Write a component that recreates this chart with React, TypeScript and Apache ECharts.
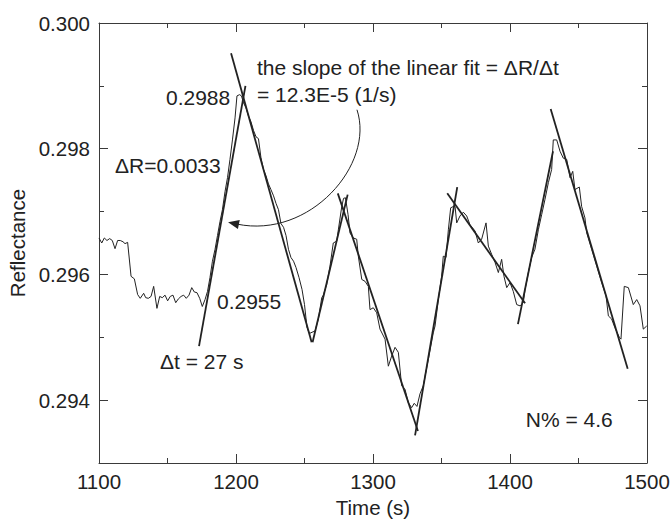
import React, { useEffect, useRef } from "react";
import * as echarts from "echarts";

const FONT = "Liberation Sans";
const INK = "#222222";
const FRAME = "#3a3a3a";

// Measured reflectance trace, [time (s), reflectance]
const baselineSeg: [number, number][] = [
  [1100, 0.29658], [1102, 0.2965], [1103.9, 0.29658], [1105.8, 0.29654], [1107.8, 0.29657],
  [1109.7, 0.29654], [1111.7, 0.29641], [1113.6, 0.29654], [1115.5, 0.29654], [1117.5, 0.29652],
  [1119, 0.29649], [1120.9, 0.29651], [1123.4, 0.29597], [1125.8, 0.29593], [1128.2, 0.29568],
  [1130.1, 0.29562], [1132.6, 0.2957], [1134.1, 0.29563], [1136, 0.29562], [1138, 0.29565],
  [1139.9, 0.29581], [1142.3, 0.29546], [1144.3, 0.29565], [1146.2, 0.29563], [1148.2, 0.29567],
  [1150.1, 0.29558], [1152, 0.29565], [1154, 0.29567], [1156, 0.29555], [1157.9, 0.29561],
  [1159.9, 0.29565], [1161.8, 0.29567], [1163.7, 0.29562], [1165.7, 0.29567], [1167.7, 0.29579],
  [1169.6, 0.29572], [1171.5, 0.29571], [1173.5, 0.29562], [1175.4, 0.29549], [1177.4, 0.2956],
  [1179.2, 0.29573],
];
const riseSeg1: [number, number][] = [
  [1181, 0.29595], [1182.8, 0.29621], [1184.7, 0.2964], [1186.5, 0.29662], [1188.3, 0.29684],
  [1190.1, 0.29703], [1192, 0.29732], [1193.8, 0.29754], [1195.6, 0.29783], [1197.4, 0.29814],
  [1199.3, 0.29849], [1200.7, 0.29884], [1202.6, 0.29886], [1204, 0.29884], [1205.5, 0.29873],
  [1207.3, 0.29865],
];
const fallSeg1: [number, number][] = [
  [1209.1, 0.29852], [1210.9, 0.29843], [1212.8, 0.29829], [1214.6, 0.29819], [1216.4, 0.29816],
  [1218.2, 0.29786], [1220.1, 0.29767], [1221.9, 0.29757], [1223.7, 0.29744], [1225.5, 0.29735],
  [1227.4, 0.29725], [1229.2, 0.29713], [1231, 0.29703], [1232.8, 0.29681], [1234.7, 0.29675],
  [1236.5, 0.29662], [1238.3, 0.2964], [1240.1, 0.29627], [1242, 0.29621], [1243.8, 0.29611],
  [1246, 0.29595], [1248.2, 0.29576], [1250, 0.29552], [1251.8, 0.29516], [1253.6, 0.29506],
  [1255.5, 0.29508], [1257.7, 0.2951],
];
const cycleSeg2: [number, number][] = [
  [1260.1, 0.29529], [1262.6, 0.29563], [1263.7, 0.29567], [1266.2, 0.29584], [1268.6, 0.29613],
  [1271, 0.2965], [1273.5, 0.29653], [1274.7, 0.29671], [1277.2, 0.29708], [1278.5, 0.29721],
  [1279.9, 0.29722], [1281.8, 0.29695], [1283.2, 0.29666], [1285.6, 0.29658], [1288.1, 0.29656],
  [1289.3, 0.29629], [1291.8, 0.29592], [1294.2, 0.29589], [1296.6, 0.29581], [1297.8, 0.29544],
  [1300.2, 0.29547], [1302.7, 0.29539], [1305.1, 0.29513], [1308.8, 0.29497], [1311.2, 0.29454],
  [1313.6, 0.2947], [1316.1, 0.29484], [1318.5, 0.29476], [1320.9, 0.29423], [1323.4, 0.29417],
  [1325.8, 0.29396], [1328.2, 0.29388], [1330.1, 0.29395], [1332.1, 0.2939],
];
const cycleSeg3: [number, number][] = [
  [1334.3, 0.2941], [1336.7, 0.29423], [1340.4, 0.29465], [1344, 0.29507], [1345.3, 0.29518],
  [1347.7, 0.2956], [1350.1, 0.29597], [1351.3, 0.29629], [1353.3, 0.29627], [1355, 0.29671],
  [1356.7, 0.29706], [1358.6, 0.29708], [1359.9, 0.29708], [1361.1, 0.29682], [1363.5, 0.29693],
  [1365.9, 0.29699], [1368.4, 0.29693], [1370.8, 0.29679], [1374.5, 0.29669], [1376.9, 0.2965],
  [1379.3, 0.29656], [1382.5, 0.29682], [1384.2, 0.29645], [1386.6, 0.29632], [1389.1, 0.29619],
  [1391.5, 0.29603], [1393.9, 0.29624], [1395.6, 0.29597], [1397.6, 0.29579], [1400, 0.29587],
  [1402.4, 0.29573], [1404.9, 0.29552], [1407.3, 0.2955], [1409.7, 0.29555],
];
const cycleSeg4: [number, number][] = [
  [1411, 0.29576], [1413.4, 0.29603], [1415.8, 0.29627], [1418.2, 0.2964], [1420.7, 0.29671],
  [1423.1, 0.29695], [1425.5, 0.29719], [1428, 0.29746], [1430.4, 0.29767], [1431.6, 0.29814],
  [1434.1, 0.29814], [1436.5, 0.29796], [1438.9, 0.29785], [1441.4, 0.29783], [1443.8, 0.29754],
  [1445.8, 0.29764], [1447.4, 0.29735], [1450.6, 0.29739], [1452.3, 0.29708], [1454.7, 0.2969],
  [1456, 0.29666], [1459.6, 0.2964], [1463.3, 0.29613], [1466.9, 0.29587], [1470.1, 0.29566],
  [1471.8, 0.29534], [1474.2, 0.29529], [1476.6, 0.29515], [1479.8, 0.295], [1481, 0.29497],
  [1483.4, 0.29581], [1486.4, 0.29579], [1490, 0.29552], [1492.5, 0.2956], [1494.9, 0.2955],
  [1497.3, 0.29513], [1499.8, 0.29518],
];

// Linear fits (start, end)
const fitLines: [number, number][][] = [
  [[1173.0, 0.29486], [1206.9, 0.2990]],
  [[1196.4, 0.29952], [1255.2, 0.29492]],
  [[1255.9, 0.29492], [1281.5, 0.29727]],
  [[1274.3, 0.29729], [1332.8, 0.29351]],
  [[1330.7, 0.29344], [1361.5, 0.29739]],
  [[1354.2, 0.29729], [1411.0, 0.29554]],
  [[1405.8, 0.29521], [1431.4, 0.29796]],
  [[1429.7, 0.29863], [1485.9, 0.2945]],
];

const xMin = 1100;
const xMax = 1500;
const xStep = 100;
const yMin = 0.293;
const yMax = 0.3;
const yMajorTicks = [0.294, 0.296, 0.298, 0.3];
const yMinorTicks = [0.295, 0.297, 0.299];

// Annotations anchored in data coordinates (left edge, vertical middle)
const annotations: { text: string; t: number; r: number }[] = [
  { text: "the slope of the linear fit = \u0394R/\u0394t", t: 1215.3, r: 0.29929 },
  { text: "= 12.3E-5 (1/s)", t: 1215.3, r: 0.29886 },
  { text: "0.2988", t: 1148.9, r: 0.29882 },
  { text: "\u0394R=0.0033", t: 1111.7, r: 0.29773 },
  { text: "0.2955", t: 1186.1, r: 0.29557 },
  { text: "\u0394t = 27 s", t: 1144.5, r: 0.29461 },
  { text: "N% = 4.6", t: 1411.5, r: 0.2937 },
];
// Curved arrow: cubic bezier (start, ctrl1, ctrl2, end)
const arrowCurve: [number, number][] = [
  [1288.3, 0.29862],
  [1301.5, 0.29775],
  [1254.0, 0.29656],
  [1194.2, 0.29683],
];

const traceData = [
  ...baselineSeg, ...riseSeg1, ...fallSeg1, ...cycleSeg2, ...cycleSeg3, ...cycleSeg4,
];

export default function App() {
  const ref = useRef<HTMLDivElement>(null);
  useEffect(() => {
    document.body.style.margin = "0";
    const chart = echarts.init(ref.current!, null, { renderer: "svg" });
    const axisLine = { show: true, lineStyle: { color: FRAME, width: 1 } };
    const tickStyle = { color: FRAME, width: 1 };
    const labelStyle = { fontFamily: FONT, fontSize: 20.5, color: INK };

    const series: any[] = [
      {
        type: "line",
        data: traceData,
        showSymbol: false,
        symbol: "none",
        lineStyle: { color: INK, width: 1 },
        z: 3,
      },
      ...fitLines.map((seg) => ({
        type: "line",
        data: seg,
        showSymbol: false,
        symbol: "none",
        lineStyle: { color: INK, width: 1.8 },
        z: 4,
      })),
    ];

    chart.setOption({
      animation: false,
      backgroundColor: "#ffffff",
      grid: { left: 99, right: 23, top: 23, bottom: 57, containLabel: false, outerBoundsMode: "none" },
      xAxis: [
        {
          type: "value",
          position: "bottom",
          min: xMin,
          max: xMax,
          interval: xStep,
          axisLine,
          axisTick: { show: true, inside: true, length: 9, lineStyle: tickStyle },
          minorTick: { show: true, splitNumber: 2, length: 5, lineStyle: tickStyle },
          axisLabel: { ...labelStyle, margin: 8, formatter: (v: number) => String(v) },
          splitLine: { show: false },
          name: "Time (s)",
          nameLocation: "middle",
          nameGap: 26,
          nameTextStyle: labelStyle,
        },
        {
          type: "value",
          position: "top",
          min: xMin,
          max: xMax,
          interval: xStep,
          axisLine,
          axisTick: { show: true, inside: true, length: 9, lineStyle: tickStyle },
          minorTick: { show: true, splitNumber: 2, length: 5, lineStyle: tickStyle },
          axisLabel: { show: false },
          splitLine: { show: false },
        },
      ],
      yAxis: [
        {
          type: "value",
          position: "left",
          min: yMin,
          max: yMax,
          axisLine,
          axisTick: { show: true, inside: true, length: 9, lineStyle: tickStyle, customValues: yMajorTicks },
          axisLabel: {
            ...labelStyle,
            margin: 9,
            customValues: yMajorTicks,
            formatter: (v: number) => v.toFixed(3),
          },
          splitLine: { show: false },
          name: "Reflectance",
          nameLocation: "middle",
          nameGap: 70,
          nameTextStyle: labelStyle,
        },
        {
          type: "value",
          position: "left",
          min: yMin,
          max: yMax,
          axisLine: { show: false },
          axisTick: { show: true, inside: true, length: 5, lineStyle: tickStyle, customValues: yMinorTicks },
          axisLabel: { show: false },
          splitLine: { show: false },
        },
        {
          type: "value",
          position: "right",
          min: yMin,
          max: yMax,
          axisLine,
          axisTick: { show: true, inside: true, length: 9, lineStyle: tickStyle, customValues: yMajorTicks },
          axisLabel: { show: false },
          splitLine: { show: false },
        },
        {
          type: "value",
          position: "right",
          min: yMin,
          max: yMax,
          axisLine: { show: false },
          axisTick: { show: true, inside: true, length: 5, lineStyle: tickStyle, customValues: yMinorTicks },
          axisLabel: { show: false },
          splitLine: { show: false },
        },
      ],
      series,
    });

    const px = (p: [number, number]) =>
      chart.convertToPixel({ xAxisIndex: 0, yAxisIndex: 0 }, p) as unknown as number[];

    const texts = annotations.map((a) => {
      const [x, y] = px([a.t, a.r]);
      return {
        type: "text",
        x,
        y,
        z: 10,
        style: {
          text: a.text,
          fontFamily: FONT,
          fontSize: 21,
          fill: INK,
          textAlign: "left",
          textVerticalAlign: "middle",
        },
      };
    });

    const [p0, p1, p2, p3] = arrowCurve.map(px);
    const dx = p3[0] - p2[0];
    const dy = p3[1] - p2[1];
    const len = Math.hypot(dx, dy) || 1;
    const ux = dx / len;
    const uy = dy / len;
    const headLen = 11;
    const headHalf = 4.5;
    const bx = p3[0] - ux * headLen;
    const by = p3[1] - uy * headLen;
    const head = [
      [p3[0], p3[1]],
      [bx - uy * headHalf, by + ux * headHalf],
      [bx + uy * headHalf, by - ux * headHalf],
    ];

    chart.setOption({
      graphic: [
        ...texts,
        {
          type: "bezierCurve",
          z: 10,
          shape: {
            x1: p0[0], y1: p0[1],
            cpx1: p1[0], cpy1: p1[1],
            cpx2: p2[0], cpy2: p2[1],
            x2: bx + ux * 2, y2: by + uy * 2,
          },
          style: { stroke: INK, lineWidth: 1, fill: "none" },
        },
        {
          type: "polygon",
          z: 10,
          shape: { points: head },
          style: { fill: INK, stroke: "none" },
        },
      ],
    });

    return () => chart.dispose();
  }, []);
  return <div ref={ref} style={{ width: 670, height: 520 }} />;
}
